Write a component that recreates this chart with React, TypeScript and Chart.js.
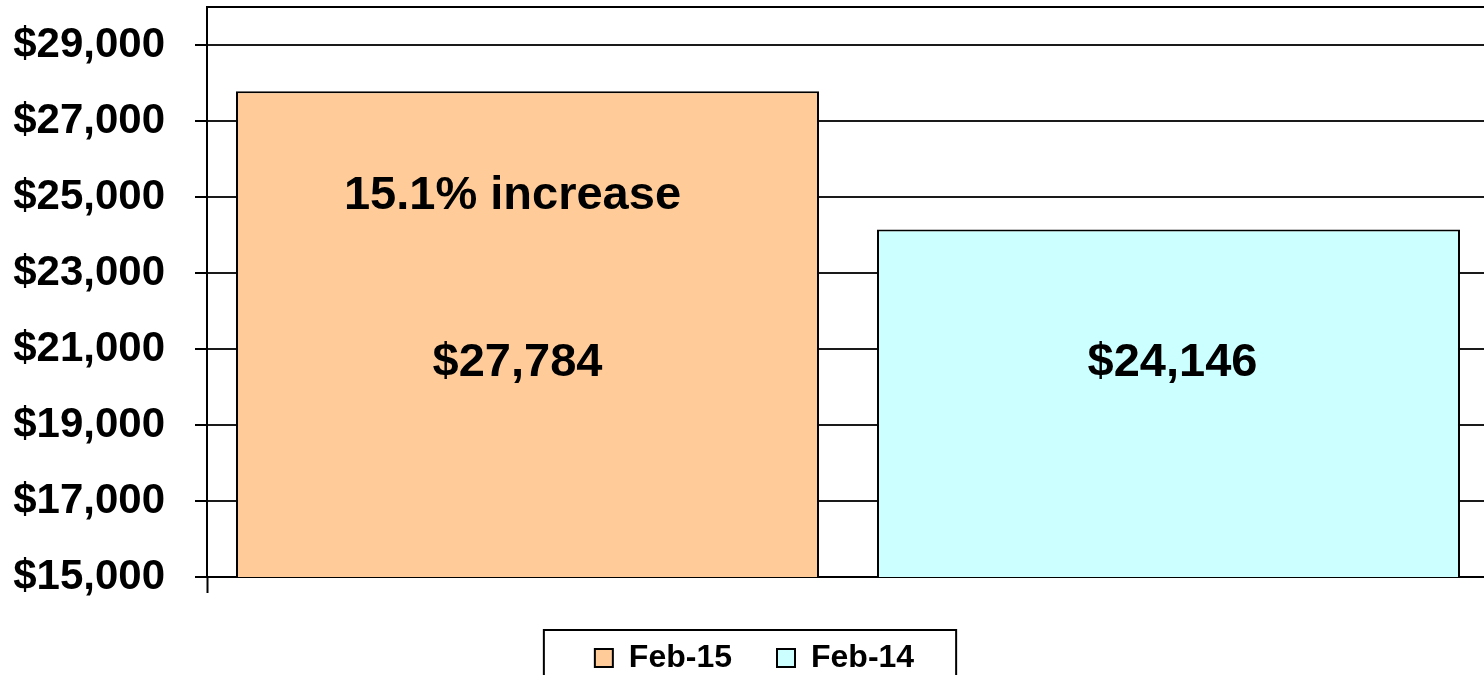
import React, { useEffect, useRef } from "react";
import { Chart, registerables } from "chart.js";

Chart.register(...registerables);

const CATEGORIES = [""];
const SERIES_NAMES = ["Feb-15", "Feb-14"];
const FEB15_VALUES = [27784];
const FEB14_VALUES = [24146];
const SERIES_COLORS = ["#FFCC99", "#CCFFFF"];
const Y_TICKS = [15000, 17000, 19000, 21000, 23000, 25000, 27000, 29000, 30000];
const Y_MIN = 15000;
const Y_MAX = 30000;
const LABEL_LEVEL = 20630;
const NOTE_LEVEL = 25020;
const LABEL_SHIFT = [-10, 4];

const FONT = "'Liberation Sans', Arial, Helvetica, sans-serif";
const LEGEND_FONT_SIZE = 32;
const CANVAS_W = 1490;
const CANVAS_H = 684;

const fmt = (v: number) => "$" + v.toLocaleString("en-US");

export default function App() {
  const ref = useRef<HTMLCanvasElement | null>(null);

  useEffect(() => {
    const canvas = ref.current;
    if (!canvas) return;

    const pct = ((FEB15_VALUES[0] - FEB14_VALUES[0]) / FEB14_VALUES[0]) * 100;
    const note = pct.toFixed(1) + "% increase";

    const labelsPlugin = {
      id: "barLabels",
      afterDatasetsDraw(chart: any) {
        const ctx = chart.ctx;
        const y = chart.scales.y;
        ctx.save();
        ctx.fillStyle = "#000";
        ctx.font = `bold 47px ${FONT}`;
        ctx.textAlign = "center";
        ctx.textBaseline = "middle";
        chart.data.datasets.forEach((ds: any, i: number) => {
          const meta = chart.getDatasetMeta(i);
          meta.data.forEach((bar: any, j: number) => {
            ctx.fillText(fmt(ds.data[j]), bar.x + LABEL_SHIFT[i], y.getPixelForValue(LABEL_LEVEL));
          });
        });
        const first = chart.getDatasetMeta(0).data[0];
        ctx.fillText(note, first.x - 15, y.getPixelForValue(NOTE_LEVEL));
        ctx.restore();
      },
    };

    const legendShift = {
      id: "legendShift",
      afterLayout(chart: any) {
        const lg = chart.legend;
        if (!lg) return;
        lg.left += 10;
        lg.right += 10;
      },
    };

    const legendBox = {
      id: "legendBox",
      afterDraw(chart: any) {
        const lg = chart.legend;
        if (!lg || !lg.legendItems || !lg.legendItems.length) return;
        const ctx = chart.ctx;
        const lo = lg.options.labels;
        ctx.save();
        ctx.font = `bold ${LEGEND_FONT_SIZE}px ${FONT}`;
        const widths = lg.legendItems.map(
          (it: any) => lo.boxWidth + LEGEND_FONT_SIZE / 2 + ctx.measureText(it.text).width
        );
        const total = widths.reduce((a: number, b: number) => a + b, 0) + lo.padding * (widths.length - 1);
        const cx = (lg.left + lg.right) / 2;
        const left = cx - total / 2 - 51;
        const right = cx + total / 2 + 42;
        const top = lg.top + lo.padding - 12;
        ctx.strokeStyle = "#000";
        ctx.lineWidth = 2;
        ctx.strokeRect(left, top, right - left, chart.height - top + 10);
        ctx.restore();
      },
    };

    const chart = new Chart(canvas, {
      type: "bar",
      data: {
        labels: CATEGORIES,
        datasets: [
          {
            label: SERIES_NAMES[0],
            data: FEB15_VALUES,
            backgroundColor: SERIES_COLORS[0],
            borderColor: "#000",
            borderWidth: 2,
            barPercentage: 0.9095,
            categoryPercentage: 1,
          },
          {
            label: SERIES_NAMES[1],
            data: FEB14_VALUES,
            backgroundColor: SERIES_COLORS[1],
            borderColor: "#000",
            borderWidth: 2,
            barPercentage: 0.9095,
            categoryPercentage: 1,
          },
        ],
      },
      options: {
        animation: false,
        responsive: false,
        devicePixelRatio: 1,
        layout: { padding: { left: 0, right: 1, top: 7, bottom: 0 } },
        plugins: {
          tooltip: { enabled: false },
          legend: {
            position: "bottom",
            labels: {
              color: "#000",
              font: { family: FONT, size: LEGEND_FONT_SIZE, weight: "bold" },
              boxWidth: 18,
              boxHeight: 18,
              padding: 45,
            },
          },
        },
        scales: {
          x: {
            type: "category",
            offset: true,
            grid: {
              offset: true,
              drawOnChartArea: false,
              drawTicks: true,
              tickLength: 16,
              tickColor: "#000",
              tickWidth: 2,
            },
            border: { display: true, color: "#000", width: 2 },
            ticks: { display: false },
            afterFit(scale: any) {
              const lh = scale.chart.legend ? scale.chart.legend.height : 0;
              scale.height = Math.max(0, CANVAS_H - 577 - lh);
            },
          },
          y: {
            type: "linear",
            min: Y_MIN,
            max: Y_MAX,
            afterBuildTicks(scale: any) {
              scale.ticks = Y_TICKS.map((v) => ({ value: v }));
            },
            afterFit(scale: any) {
              scale.width = 207;
              scale.paddingTop = 0;
              scale.paddingBottom = 0;
            },
            grid: {
              color: (c: any) => (c.tick && c.tick.value === Y_MAX ? "#000" : "#1a1a1a"),
              lineWidth: 2,
              tickLength: 12,
              tickColor: (c: any) => (c.tick && c.tick.value === Y_MAX ? "rgba(0,0,0,0)" : "#000"),
              tickWidth: 2,
            },
            border: { display: true, color: "#000", width: 2 },
            ticks: {
              color: "#000",
              font: { family: FONT, size: 42, weight: "bold" },
              padding: 30,
              callback: (v: any) => (Number(v) === Y_MAX ? "" : fmt(Number(v))),
            },
          },
        },
      },
      plugins: [legendShift, labelsPlugin, legendBox],
    } as any);

    return () => chart.destroy();
  }, []);

  return (
    <div
      style={{
        position: "fixed",
        left: 0,
        top: 0,
        width: 1484,
        height: 675,
        overflow: "hidden",
        background: "#fff",
      }}
    >
      <canvas ref={ref} width={CANVAS_W} height={CANVAS_H} style={{ display: "block" }} />
    </div>
  );
}
